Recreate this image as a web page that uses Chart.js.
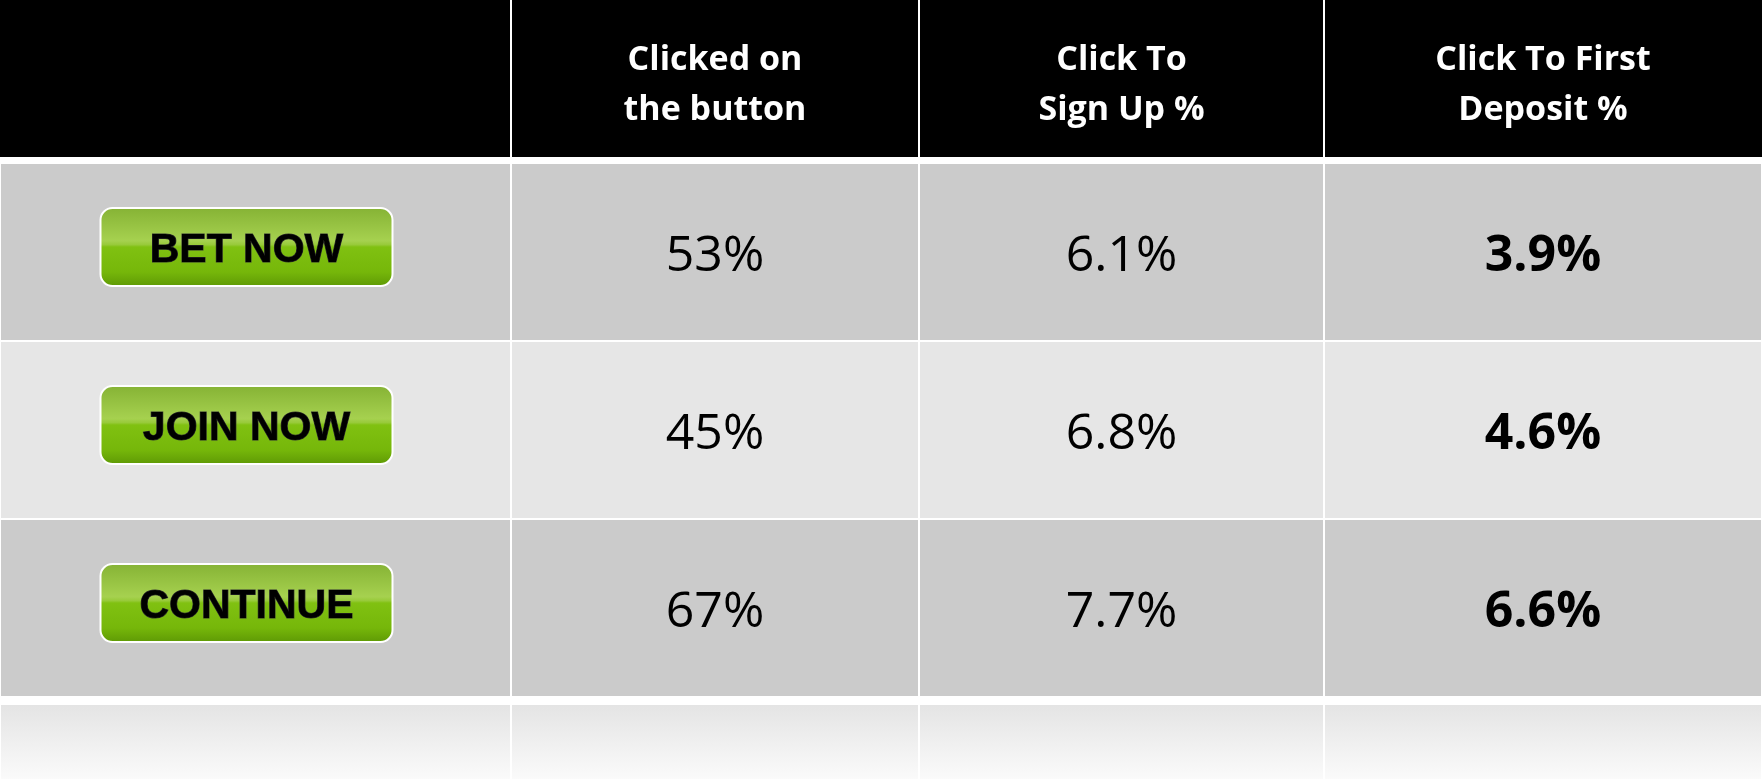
<!DOCTYPE html>
<html>
<head>
<meta charset="utf-8">
<title>Button test results</title>
<script src="https://cdn.jsdelivr.net/npm/chart.js@4/dist/chart.umd.min.js"></script>
<style>
  html, body { margin: 0; padding: 0; background: #ffffff; overflow: hidden; }
  #wrap { width: 1762px; height: 779px; overflow: hidden; }
  canvas { display: block; }
</style>
</head>
<body>
<div id="wrap"><canvas id="table" width="1762" height="875"></canvas></div>
<script>
// table contents
const columns = ['', ['Clicked on', 'the button'], ['Click To', 'Sign Up %'], ['Click To First', 'Deposit %']];
const buttons = ['BET NOW', 'JOIN NOW', 'CONTINUE'];
const clickedPct = [53, 45, 67];
const signUpPct = [6.1, 6.8, 7.7];
const depositPct = [3.9, 4.6, 6.6];

(function () {
  'use strict';

  // layout / style (not data)
  const COL_WIDTHS = [511, 408, 405, 438];
  const HEADER_H = 157;
  const ROW_FILLS = ['#cbcbcb', '#e6e6e6', '#cbcbcb'];
  const FONT_HEAD = 'bold 34px "Open Sans"';
  const FONT_VAL = '50px "Open Sans"';
  const FONT_VAL_BOLD = 'bold 50px "Open Sans"';
  const FONT_BTN = 'bold 41px "Liberation Sans"';

  const rowLabels = buttons.concat(['']); // last row is the faded empty one
  const total = COL_WIDTHS.reduce((a, b) => a + b, 0);
  const cells = [
    null,
    clickedPct.map((v) => v + '%'),
    signUpPct.map((v) => v.toFixed(1) + '%'),
    depositPct.map((v) => v.toFixed(1) + '%')
  ];

  function colEdges(chart) {
    const x = chart.scales.x;
    const edges = [0];
    let acc = 0;
    COL_WIDTHS.forEach((w) => { acc += w; edges.push(acc); });
    return edges.map((v) => x.getPixelForValue(v));
  }

  function rowCenter(chart, i) { return chart.scales.y.getPixelForValue(i); }

  function fillFor(ctx) {
    const i = ctx.dataIndex;
    if (i < ROW_FILLS.length) return ROW_FILLS[i];
    const chart = ctx.chart;
    const y = chart.scales.y;
    if (!chart.chartArea || !y) return '#ececec';
    const band = y.getPixelForValue(1) - y.getPixelForValue(0);
    const top = y.getPixelForValue(i) - band / 2 + 8;
    const g = chart.ctx.createLinearGradient(0, top, 0, top + 76);
    g.addColorStop(0, '#e4e4e4');
    g.addColorStop(1, '#fbfbfb');
    return g;
  }

  function roundRect(c, x, y, w, h, r) {
    c.beginPath();
    c.moveTo(x + r, y);
    c.arcTo(x + w, y, x + w, y + h, r);
    c.arcTo(x + w, y + h, x, y + h, r);
    c.arcTo(x, y + h, x, y, r);
    c.arcTo(x, y, x + w, y, r);
    c.closePath();
  }

  function drawButton(c, cx, cy, text) {
    const w = 292, h = 78;
    const x = cx - w / 2, y = cy - h / 2;
    const g = c.createLinearGradient(0, y, 0, y + h);
    g.addColorStop(0, '#86b335');
    g.addColorStop(0.42, '#a6d14f');
    g.addColorStop(0.47, '#98ca3a');
    g.addColorStop(0.5, '#80c111');
    g.addColorStop(0.82, '#76b70a');
    g.addColorStop(1, '#5f9a05');
    roundRect(c, x, y, w, h, 12);
    c.fillStyle = g;
    c.fill();
    c.lineWidth = 2;
    c.strokeStyle = '#ffffff';
    c.stroke();
    c.font = FONT_BTN;
    c.textAlign = 'center';
    c.textBaseline = 'alphabetic';
    c.lineWidth = 1;
    c.strokeStyle = '#333333';
    c.strokeText(text, cx, cy + 15);
    c.fillStyle = '#000000';
    c.fillText(text, cx, cy + 15);
  }

  const tablePlugin = {
    id: 'tableText',
    afterDatasetsDraw(chart) {
      const c = chart.ctx;
      const edges = colEdges(chart);
      c.save();

      // header band
      for (let i = 0; i < columns.length; i++) {
        const x0 = edges[i] + (i === 0 ? 0 : 1);
        const x1 = edges[i + 1] - (i === columns.length - 1 ? 0 : 1);
        c.fillStyle = '#000000';
        c.fillRect(x0, 0, x1 - x0, HEADER_H);
        const lines = Array.isArray(columns[i]) ? columns[i] : [columns[i]];
        c.fillStyle = '#ffffff';
        c.font = FONT_HEAD;
        c.textAlign = 'center';
        c.textBaseline = 'alphabetic';
        lines.forEach((ln, k) => c.fillText(ln, (edges[i] + edges[i + 1]) / 2, 70 + k * 50));
      }

      // rows
      buttons.forEach((b, r) => {
        const cy = rowCenter(chart, r);
        drawButton(c, (edges[0] + edges[1]) / 2 - 9, cy - 5, b);
        for (let col = 1; col < cells.length; col++) {
          c.font = col === cells.length - 1 ? FONT_VAL_BOLD : FONT_VAL;
          c.fillStyle = '#000000';
          c.textAlign = 'center';
          c.textBaseline = 'alphabetic';
          c.fillText(cells[col][r], (edges[col] + edges[col + 1]) / 2, cy + 19);
        }
      });
      c.restore();
    }
  };

  function build() {
    const datasets = COL_WIDTHS.map((w, i) => ({
      label: 'col' + i,
      data: rowLabels.map(() => w),
      backgroundColor: fillFor,
      borderColor: '#ffffff',
      borderWidth: (ctx) => ctx.dataIndex === rowLabels.length - 1
        ? { top: 8, left: 1, right: 1, bottom: 0 } : 1,
      borderSkipped: false,
      inflateAmount: 0,
      barPercentage: 1,
      categoryPercentage: 1
    }));

    new Chart(document.getElementById('table'), {
      type: 'bar',
      data: { labels: rowLabels, datasets: datasets },
      options: {
        indexAxis: 'y',
        responsive: false,
        devicePixelRatio: 1,
        animation: false,
        layout: { padding: { top: 163, left: 0, right: 0, bottom: 0 } },
        scales: {
          x: { type: 'linear', stacked: true, min: 0, max: total, display: false },
          y: { type: 'category', stacked: true, display: false }
        },
        plugins: { legend: { display: false }, tooltip: { enabled: false } }
      },
      plugins: [tablePlugin]
    });
  }

  const fontsReady = document.fonts
    ? Promise.all([FONT_HEAD, FONT_VAL, FONT_VAL_BOLD, FONT_BTN].map((f) => document.fonts.load(f)))
    : Promise.resolve();
  fontsReady.then(build, build);
})();
</script>
</body>
</html>
